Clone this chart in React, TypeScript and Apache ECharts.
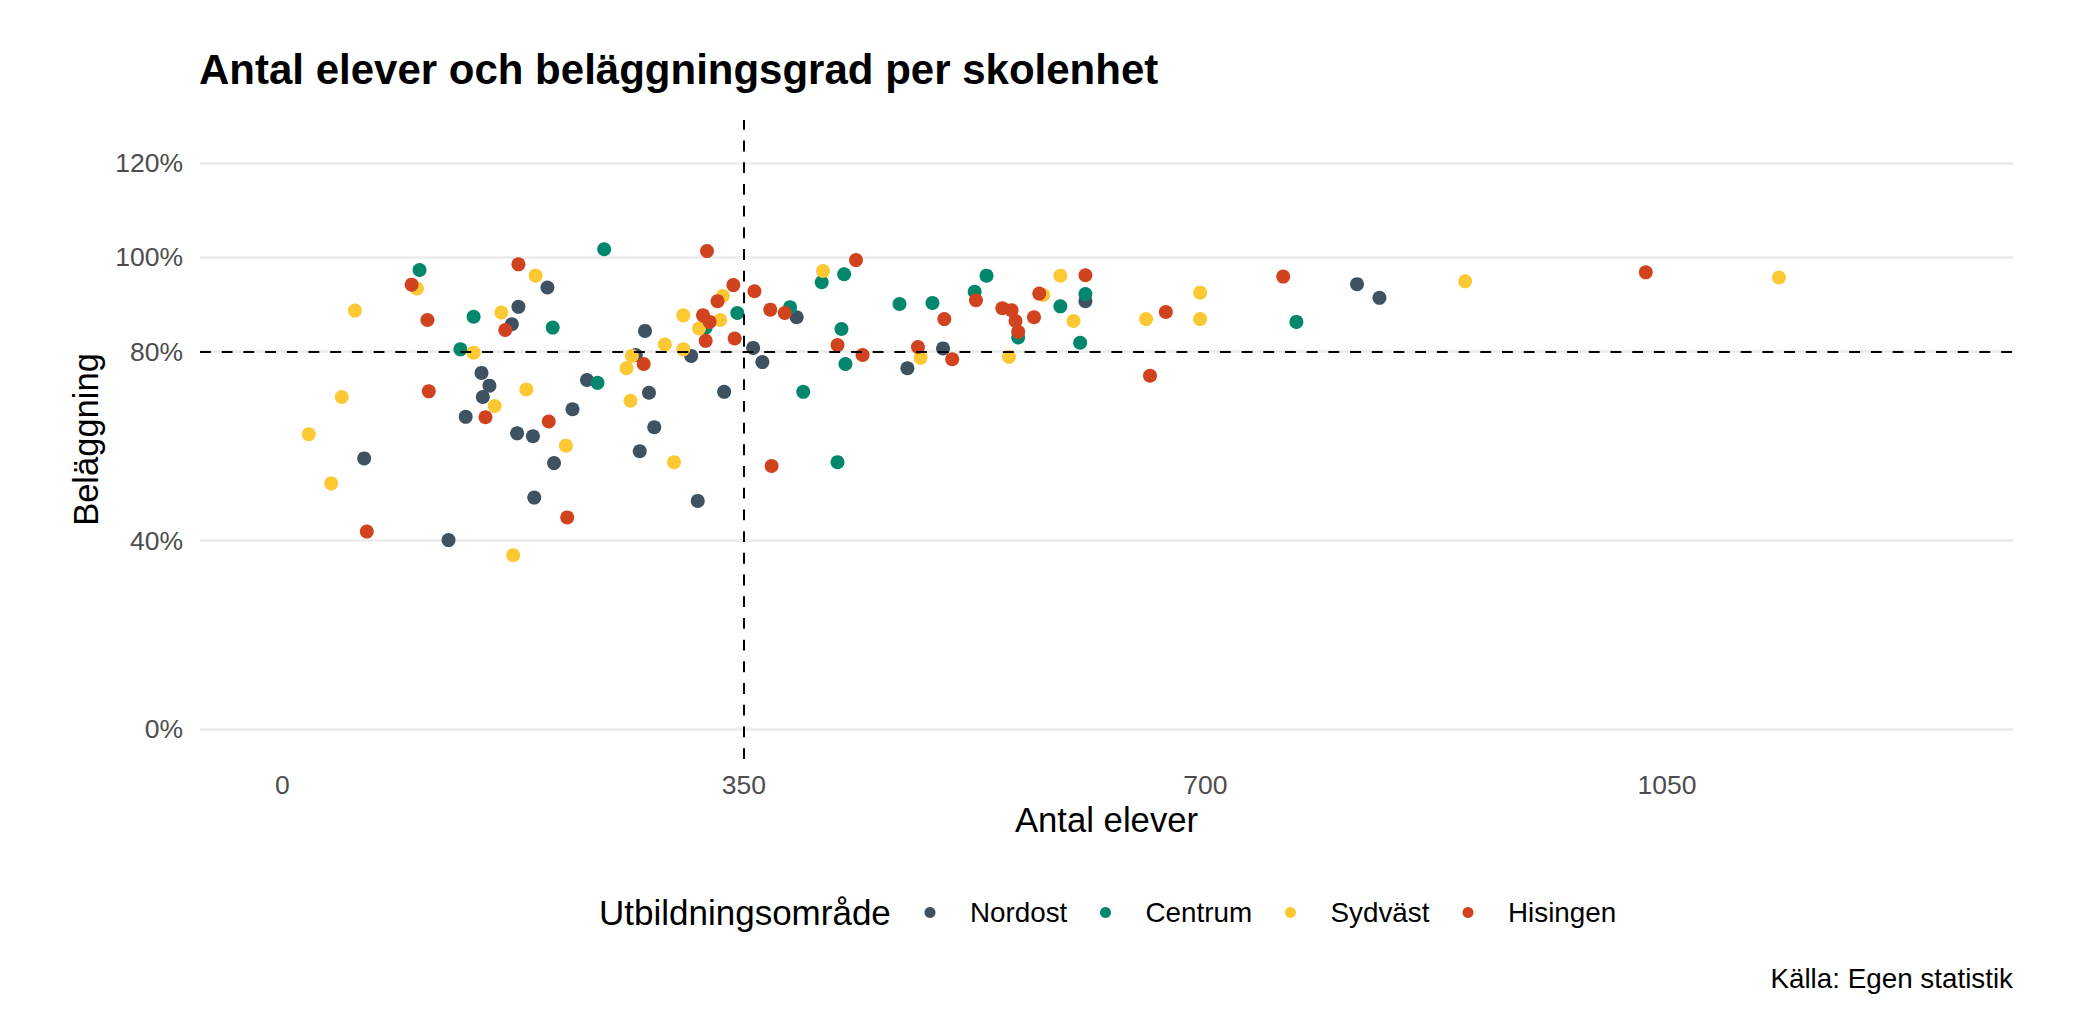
import React, { useEffect, useRef } from "react";
import * as echarts from "echarts";

const TITLE = "Antal elever och beläggningsgrad per skolenhet";
const X_NAME = "Antal elever";
const Y_NAME = "Beläggning";
const LEGEND_TITLE = "Utbildningsområde";
const CAPTION = "Källa: Egen statistik";

const X_TICKS = [0, 350, 700, 1050];
const Y_TICKS = [0, 40, 80, 100, 120];
const X_REF = 350;
const Y_REF = 80;

const AREAS = ["Nordost", "Centrum", "Sydväst", "Hisingen"];
const COLORS = ["#3e5262", "#00876c", "#fcc934", "#d1431f"];

const nordostElever = [179, 174, 201, 151, 157, 152, 139, 178, 190, 206, 62, 191, 126, 275, 268, 310, 231, 278, 335, 220, 282, 271, 315, 357, 364, 390, 474, 501, 609, 815, 832];
const nordostBel = [89.5, 85.8, 93.6, 75.5, 72.8, 70.4, 66.2, 62.7, 62.1, 56.4, 57.4, 49.1, 40.1, 84.4, 79.3, 79.1, 74.0, 71.3, 71.5, 67.8, 64.0, 58.9, 48.4, 80.8, 77.8, 87.3, 76.5, 80.7, 90.7, 94.3, 91.4];

const centrumElever = [104, 145, 205, 135, 244, 345, 321, 239, 385, 395, 409, 426, 424, 427, 421, 468, 493, 534, 525, 558, 590, 609, 605, 769];
const centrumBel = [97.3, 87.4, 85.1, 80.5, 101.7, 88.2, 85.1, 73.4, 89.4, 71.5, 94.7, 96.4, 84.8, 77.4, 56.6, 90.1, 90.3, 96.1, 92.7, 83.0, 89.6, 92.2, 81.9, 86.3];

const sydvastElever = [102, 55, 166, 192, 145, 161, 185, 45, 20, 37, 175, 334, 304, 332, 316, 290, 304, 261, 264, 215, 297, 265, 410, 484, 551, 577, 590, 600, 655, 696, 696, 897, 1135];
const sydvastBel = [93.4, 88.7, 88.3, 96.1, 79.8, 68.5, 72.0, 70.4, 62.5, 52.1, 36.9, 91.8, 87.7, 86.7, 84.9, 81.5, 80.5, 76.5, 69.6, 60.1, 56.6, 79.1, 97.1, 78.7, 78.9, 92.0, 96.1, 86.5, 86.9, 92.5, 86.9, 94.9, 95.7];

const hisingenElever = [98, 110, 169, 179, 111, 154, 202, 64, 322, 342, 330, 319, 324, 321, 343, 274, 216, 371, 358, 370, 381, 435, 421, 440, 502, 482, 508, 526, 546, 553, 556, 558, 570, 574, 609, 670, 658, 759, 1034];
const hisingenBel = [94.2, 86.7, 84.6, 98.5, 71.6, 66.1, 65.2, 41.9, 101.3, 94.1, 90.7, 87.7, 86.3, 82.3, 82.8, 77.4, 44.9, 55.8, 92.8, 88.9, 88.2, 99.4, 81.4, 79.3, 86.9, 81.0, 78.4, 90.9, 89.2, 88.8, 86.5, 84.2, 87.3, 92.3, 96.2, 88.4, 74.9, 95.9, 96.8];

const GROUP_X = [nordostElever, centrumElever, sydvastElever, hisingenElever];
const GROUP_Y = [nordostBel, centrumBel, sydvastBel, hisingenBel];

const FONT = "'Liberation Sans', Arial, sans-serif";

// legend key layout (pixels)
const LEGEND_Y = 912.5;
const LEGEND_DOT_X = [930, 1105.5, 1290.5, 1468];
const LEGEND_TEXT_DX = 40;

export default function App() {
  const ref = useRef<HTMLDivElement>(null);

  useEffect(() => {
    if (!ref.current) return;
    const chart = echarts.init(ref.current, null, { renderer: "svg" });

    const series: any[] = AREAS.map((name, i) => ({
      name,
      type: "scatter",
      symbol: "circle",
      symbolSize: 14,
      itemStyle: { color: COLORS[i], opacity: 1 },
      data: GROUP_X[i].map((x, j) => [x, GROUP_Y[i][j]]),
      z: 3,
    }));

    series.push({
      name: "ref",
      type: "scatter",
      data: [],
      silent: true,
      markLine: {
        silent: true,
        symbol: "none",
        label: { show: false },
        lineStyle: { color: "#000", width: 2, type: [10.85, 10.85] },
        data: [{ yAxis: Y_REF }, { xAxis: X_REF }],
      },
      z: 2,
    });

    const legendGraphics: any[] = [
      {
        type: "text",
        left: 599,
        top: LEGEND_Y - 17.5,
        silent: true,
        style: { text: LEGEND_TITLE, fontFamily: FONT, fontSize: 35, fill: "#000" },
      },
    ];
    AREAS.forEach((name, i) => {
      legendGraphics.push({
        type: "circle",
        silent: true,
        shape: { cx: LEGEND_DOT_X[i], cy: LEGEND_Y, r: 5.5 },
        style: { fill: COLORS[i] },
      });
      legendGraphics.push({
        type: "text",
        silent: true,
        x: LEGEND_DOT_X[i] + LEGEND_TEXT_DX,
        y: LEGEND_Y,
        style: {
          text: name,
          fontFamily: FONT,
          fontSize: 27.8,
          fill: "#000",
          textAlign: "left",
          textVerticalAlign: "middle",
        },
      });
    });

    chart.setOption({
      animation: false,
      backgroundColor: "#ffffff",
      textStyle: { fontFamily: FONT },
      title: {
        text: TITLE,
        left: 199,
        top: 48,
        padding: 0,
        textStyle: { fontFamily: FONT, fontWeight: "bold", fontSize: 42, color: "#000" },
      },
      grid: { left: 200, right: 62, top: 120, bottom: 253, outerBoundsMode: "none", containLabel: false },
      xAxis: {
        type: "value",
        min: -62.5,
        max: 1312.5,
        name: X_NAME,
        nameLocation: "middle",
        nameGap: 43,
        nameTextStyle: { fontFamily: FONT, fontSize: 34.7, color: "#000" },
        axisLine: { show: false },
        axisTick: { show: false, customValues: X_TICKS },
        splitLine: { show: false },
        axisLabel: {
          customValues: X_TICKS,
          margin: 12,
          fontFamily: FONT,
          fontSize: 26.5,
          color: "#4d4d4d",
          formatter: (v: number) => String(Math.round(v)),
        },
      },
      yAxis: {
        type: "value",
        min: -6.27,
        max: 129.07,
        name: Y_NAME,
        nameLocation: "middle",
        nameGap: 97,
        nameRotate: 90,
        nameTextStyle: { fontFamily: FONT, fontSize: 34.5, color: "#000" },
        axisLine: { show: false },
        axisTick: { show: false, customValues: Y_TICKS },
        splitLine: { show: true, lineStyle: { color: "#ebebeb", width: 2.5 } },
        axisLabel: {
          customValues: Y_TICKS,
          margin: 17,
          fontFamily: FONT,
          fontSize: 26.5,
          color: "#4d4d4d",
          formatter: (v: number) => `${Math.round(v)}%`,
        },
      },
      graphic: [
        ...legendGraphics,
        {
          type: "text",
          right: 62,
          top: 964,
          silent: true,
          style: { text: CAPTION, fontFamily: FONT, fontSize: 27.8, fill: "#000" },
        },
      ],
      series,
    });

    return () => chart.dispose();
  }, []);

  return (
    <div
      ref={ref}
      style={{ position: "fixed", left: 0, top: 0, width: 2075, height: 1012, background: "#fff" }}
    />
  );
}
